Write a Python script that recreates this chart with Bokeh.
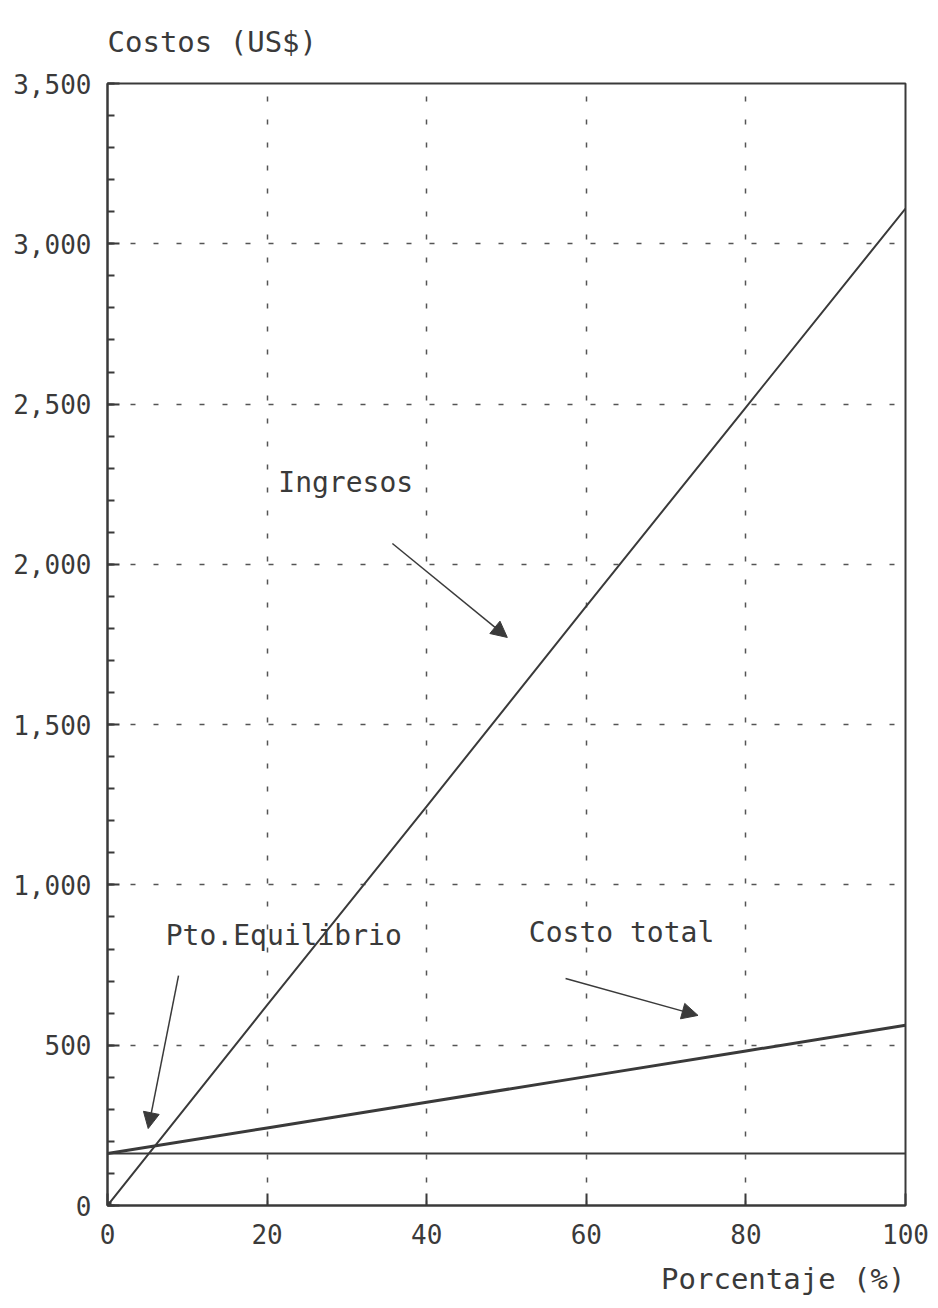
from bokeh.plotting import figure
from bokeh.models import (Range1d, Label, Arrow, NormalHead, NumeralTickFormatter,
                          FixedTicker, Title)
from bokeh.embed import file_html
from bokeh.resources import INLINE

# ---- data ----
porcentaje = [0, 20, 40, 60, 80, 100]
ingresos = [0, 625, 1245, 1870, 2490, 3110]
costo_total = [162, 242, 322, 402, 482, 562]
costo_fijo = [162, 162, 162, 162, 162, 162]

x_ticks = [0, 20, 40, 60, 80, 100]
y_ticks = [0, 500, 1000, 1500, 2000, 2500, 3000, 3500]
y_minor = list(range(0, 3600, 100))

y_title = "Costos (US$)"
x_title = "Porcentaje (%)"
labels = ["Ingresos", "Pto.Equilibrio", "Costo total"]
label_x = [21.4, 7.3, 52.8]
label_y = [2255, 842, 851]
arrow_start_x = [35.7, 8.9, 57.4]
arrow_start_y = [2065, 717, 708]
arrow_end_x = [50.1, 5.1, 74.0]
arrow_end_y = [1772, 240, 593]

FONT = "DejaVu Sans Mono"
INK = "#3a3a3a"

p = figure(width=930, height=1308, output_backend="svg", toolbar_location=None,
           x_range=Range1d(0, 100), y_range=Range1d(0, 3500),
           min_border_left=107, min_border_right=25, min_border_top=83,
           min_border_bottom=103)
p.background_fill_color = "white"
p.border_fill_color = "white"
p.outline_line_color = INK
p.outline_line_width = 2

# axes
for ax in (p.xaxis[0], p.yaxis[0]):
    ax.axis_line_color = INK
    ax.axis_line_width = 2
    ax.major_tick_line_color = INK
    ax.major_tick_line_width = 2
    ax.major_tick_in = 12
    ax.major_tick_out = 0
    ax.major_label_text_font = FONT
    ax.major_label_text_font_size = "26px"
    ax.major_label_text_color = INK
    ax.major_label_text_font_style = "normal"

p.xaxis[0].ticker = FixedTicker(ticks=x_ticks)
p.xaxis[0].minor_tick_line_color = None
p.xaxis[0].major_label_standoff = 18

p.yaxis[0].ticker = FixedTicker(ticks=y_ticks, minor_ticks=y_minor)
p.yaxis[0].minor_tick_line_color = INK
p.yaxis[0].minor_tick_line_width = 2
p.yaxis[0].minor_tick_in = 7
p.yaxis[0].minor_tick_out = 0
p.yaxis[0].major_label_standoff = 16
p.yaxis[0].formatter = NumeralTickFormatter(format="0,0")

# grid
for g in (p.xgrid[0], p.ygrid[0]):
    g.grid_line_color = "#555555"
    g.grid_line_width = 1.5
    g.grid_line_dash = "5 18"

# series
p.line(porcentaje, costo_fijo, line_color=INK, line_width=2)
p.line(porcentaje, costo_total, line_color=INK, line_width=3)
p.line(porcentaje, ingresos, line_color=INK, line_width=2)
p.scatter(porcentaje[:1], ingresos[:1], marker="square", size=7, color=INK)

# annotations
for t, lx, ly in zip(labels, label_x, label_y):
    p.add_layout(Label(x=lx, y=ly, text=t, text_font=FONT, text_font_size="28px",
                       text_color=INK, text_baseline="middle", text_align="left"))
for sx, sy, ex, ey in zip(arrow_start_x, arrow_start_y, arrow_end_x, arrow_end_y):
    p.add_layout(Arrow(x_start=sx, y_start=sy, x_end=ex, y_end=ey,
                       line_color=INK, line_width=1.5,
                       end=NormalHead(size=16, fill_color=INK, line_color=INK)))

p.add_layout(Title(text=y_title, align="left", vertical_align="top", text_font=FONT,
                   text_font_size="29px", text_color=INK, text_font_style="normal",
                   standoff=45), "above")
p.add_layout(Title(text=x_title, align="right", text_font=FONT, text_font_size="29px",
                   text_color=INK, text_font_style="normal", standoff=26), "below")

open("out.html", "w").write(file_html(p, INLINE))
